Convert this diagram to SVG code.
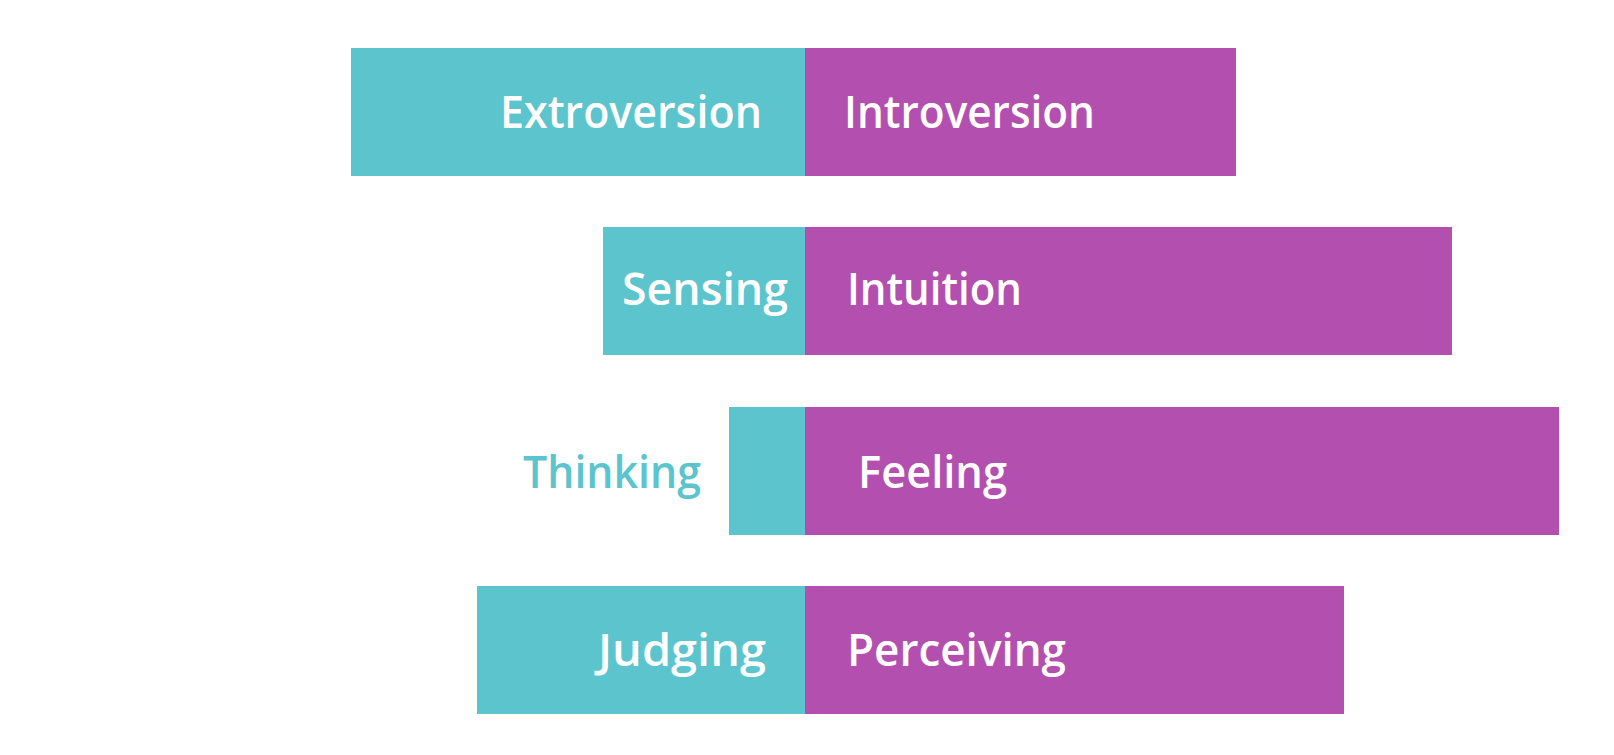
<svg xmlns="http://www.w3.org/2000/svg" width="1614" height="755" viewBox="0 0 1614 755">
<style>
.c{fill:#5CC4CD}
.m{fill:#B34FAF}
.t{font-family:"Open Sans","Liberation Sans",sans-serif;font-weight:600;font-size:46px;fill:#FFFFFF}
.tc{fill:#5CC4CD}
</style>
<rect width="1614" height="755" fill="#FFFFFF"/>
<g id="row1">
<rect class="c" x="351" y="48" width="454" height="128"/>
<rect class="m" x="805" y="48" width="431" height="128"/>
<text class="t" x="500" y="128" textLength="262" lengthAdjust="spacingAndGlyphs">Extroversion</text>
<text class="t" x="844" y="128" textLength="251" lengthAdjust="spacingAndGlyphs">Introversion</text>
</g>
<g id="row2">
<rect class="c" x="603" y="227" width="202" height="128"/>
<rect class="m" x="805" y="227" width="647" height="128"/>
<text class="t" x="622" y="305" textLength="166" lengthAdjust="spacingAndGlyphs">Sensing</text>
<text class="t" x="847" y="305" textLength="175" lengthAdjust="spacingAndGlyphs">Intuition</text>
</g>
<g id="row3">
<rect class="c" x="729" y="407" width="76" height="128"/>
<rect class="m" x="805" y="407" width="754" height="128"/>
<text class="t tc" x="523" y="488" textLength="178" lengthAdjust="spacingAndGlyphs">Thinking</text>
<text class="t" x="858" y="488" textLength="149" lengthAdjust="spacingAndGlyphs">Feeling</text>
</g>
<g id="row4">
<rect class="c" x="477" y="586" width="328" height="128"/>
<rect class="m" x="805" y="586" width="539" height="128"/>
<text class="t" x="598" y="666" textLength="168" lengthAdjust="spacingAndGlyphs">Judging</text>
<text class="t" x="847" y="666" textLength="219" lengthAdjust="spacingAndGlyphs">Perceiving</text>
</g>
</svg>
